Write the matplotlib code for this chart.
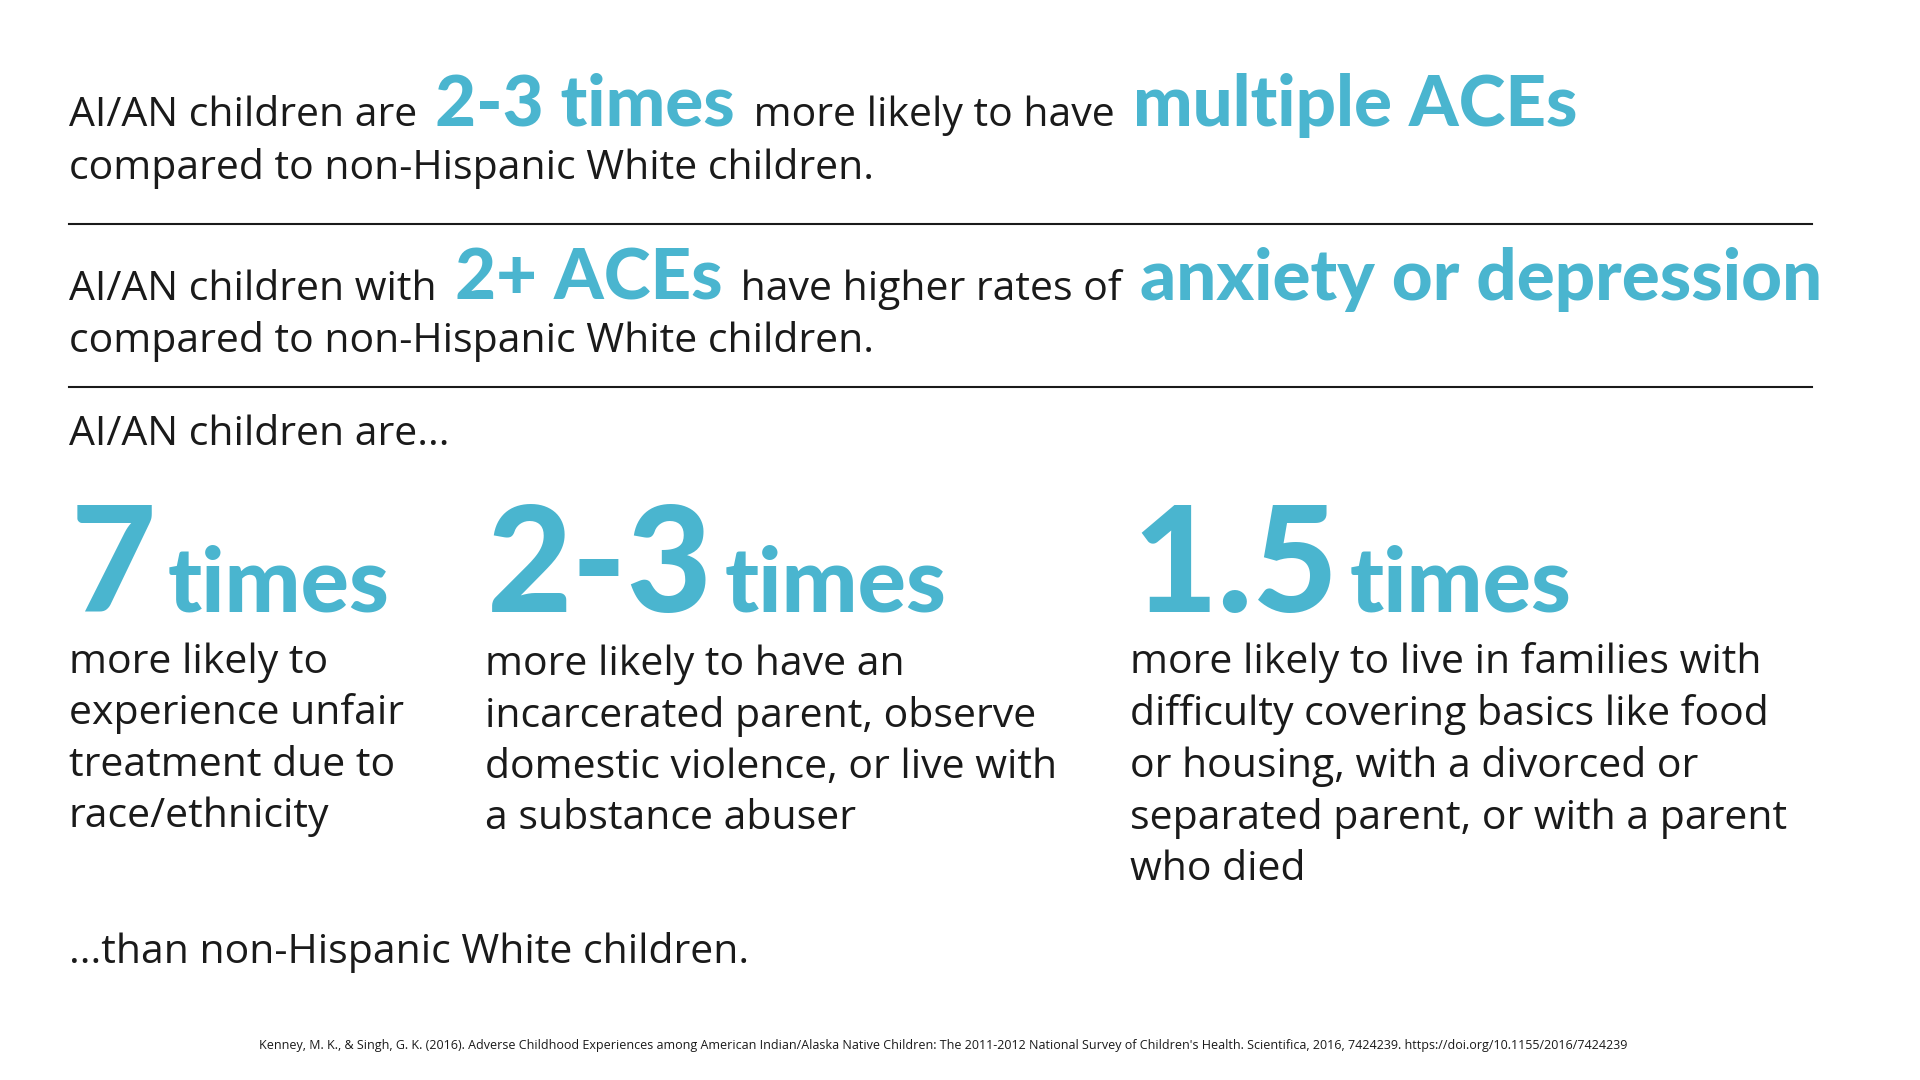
import matplotlib
matplotlib.use("Agg")
import matplotlib.pyplot as plt

# reference layout coordinates, measured on the displayed reference
W, H = 1568, 883
BLUE = "#4ab5cf"
DARK = "#1a1a1a"

header_1 = [("AI/AN children are ", False), ("2-3 times", True),
            (" more likely to have ", False), ("multiple ACEs", True)]
header_2 = [("AI/AN children with ", False), ("2+ ACEs", True),
            (" have higher rates of ", False), ("anxiety or depression", True)]
second_line = "compared to non-Hispanic White children."
intro = "AI/AN children are..."
outro = "...than non-Hispanic White children."

big_numbers = ["7", "2-3", "1.5"]
big_unit = "times"
descriptions = [
    "more likely to\nexperience unfair\ntreatment due to\nrace/ethnicity",
    "more likely to have an\nincarcerated parent, observe\ndomestic violence, or live with\na substance abuser",
    "more likely to live in families with\ndifficulty covering basics like food\nor housing, with a divorced or\nseparated parent, or with a parent\nwho died",
]
col_x = [58, 398, 925]
desc_y = [525, 527, 525]

citation = ("Kenney, M. K., & Singh, G. K. (2016). Adverse Childhood Experiences among American Indian/Alaska "
            "Native Children: The 2011-2012 National Survey of Children's Health. Scientifica, 2016, 7424239. "
            "https://doi.org/10.1155/2016/7424239")

BODY = "Open Sans"
BOLD = "Lato"
SB = 29.5

fig = plt.figure(figsize=(19.2, 10.8), dpi=100)
fig.patch.set_facecolor("white")
renderer = fig.canvas.get_renderer()


def fx(x):
    return x / W


def fy(y):
    return 1 - y / H


def run(frags, x, y, size_body=SB, size_hi=51):
    # place text fragments one after another along a baseline
    cur = fx(x)
    for txt, hi in frags:
        t = fig.text(cur, fy(y), txt, fontsize=size_hi if hi else size_body,
                     color=BLUE if hi else DARK, family=BOLD if hi else BODY,
                     weight="black" if hi else "normal", va="baseline")
        bb = t.get_window_extent(renderer)
        cur = bb.x1 / fig.bbox.width + 0.004


run(header_1, 56, 103)
fig.text(fx(56), fy(146), second_line, fontsize=SB, color=DARK, family=BODY, va="baseline")
fig.add_artist(plt.Line2D([fx(56), fx(1480)], [fy(183)] * 2, color=DARK, lw=1.5))

run(header_2, 56, 245)
fig.text(fx(56), fy(288), second_line, fontsize=SB, color=DARK, family=BODY, va="baseline")
fig.add_artist(plt.Line2D([fx(56), fx(1480)], [fy(316)] * 2, color=DARK, lw=1.5))

fig.text(fx(56), fy(364), intro, fontsize=SB, color=DARK, family=BODY, va="baseline")

for i, (num, desc) in enumerate(zip(big_numbers, descriptions)):
    run([(num, True)], col_x[i], 500, size_hi=106)
    # append the unit after the number
    last = fig.texts[-1].get_window_extent(renderer)
    fig.text(last.x1 / fig.bbox.width + 0.006, fy(500), big_unit, fontsize=65,
             color=BLUE, family=BOLD, weight="black", va="baseline")
    fig.text(fx(col_x[i] - 2), fy(desc_y[i]), desc, fontsize=SB, color=DARK, family=BODY,
             va="top", linespacing=1.35)

fig.text(fx(56), fy(787), outro, fontsize=SB, color=DARK, family=BODY, va="baseline")
fig.text(fx(770), fy(858), citation, fontsize=9, color=DARK, family=BODY, ha="center", va="baseline")

fig.savefig("out.png", dpi=100, facecolor="white")
